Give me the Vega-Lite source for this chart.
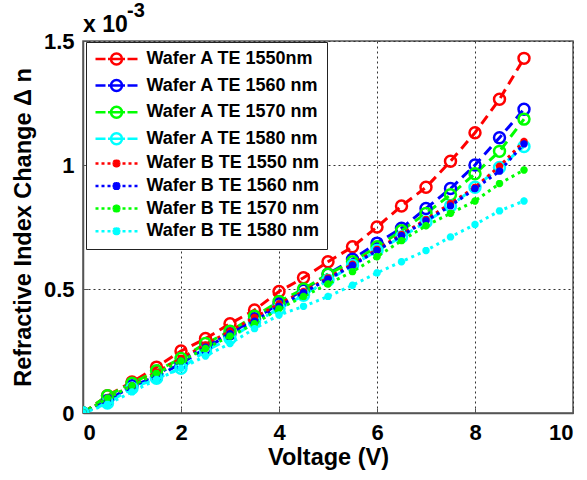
{
  "$schema": "https://vega.github.io/schema/vega-lite/v6.json",
  "width": 490,
  "height": 372,
  "autosize": "none",
  "padding": {"left": 83, "top": 41, "right": 14, "bottom": 67},
  "background": "white",
  "config": {
    "font": "Liberation Sans",
    "view": {"stroke": "#555555", "strokeWidth": 1.5},
    "axis": {
      "labelFont": "Liberation Sans",
      "labelFontWeight": "bold",
      "labelFontSize": 22,
      "labelColor": "black",
      "titleFont": "Liberation Sans",
      "titleFontWeight": "bold",
      "titleFontSize": 23.5,
      "titleColor": "black",
      "domainColor": "#555555",
      "domainWidth": 1.5,
      "tickColor": "#555555",
      "tickSize": -5,
      "labelPadding": 14,
      "grid": true,
      "gridColor": "#333333",
      "gridDash": [2, 3],
      "gridWidth": 1,
      "gridOpacity": 1
    },
    "legend": {
      "title": null,
      "orient": "none",
      "legendX": 3,
      "legendY": 1,
      "padding": 8,
      "strokeColor": "#222222",
      "fillColor": "white",
      "labelFont": "Liberation Sans",
      "labelFontWeight": "bold",
      "labelFontSize": 18,
      "labelColor": "black",
      "labelOffset": 21,
      "labelLimit": 400,
      "rowPadding": 4.6,
      "symbolSize": 100,
      "symbolOffset": 13.5,
      "symbolStrokeWidth": 2.5,
      "symbolFillColor": "transparent"
    }
  },
  "datasets": {
    "curves": [
      {"s": "Wafer A TE 1550nm", "v": 0, "dn": 0}, {"s": "Wafer A TE 1550nm", "v": 0.5, "dn": 0.07}, {"s": "Wafer A TE 1550nm", "v": 1, "dn": 0.125}, {"s": "Wafer A TE 1550nm", "v": 1.5, "dn": 0.185}, {"s": "Wafer A TE 1550nm", "v": 2, "dn": 0.25}, {"s": "Wafer A TE 1550nm", "v": 2.5, "dn": 0.3}, {"s": "Wafer A TE 1550nm", "v": 3, "dn": 0.36}, {"s": "Wafer A TE 1550nm", "v": 3.5, "dn": 0.415}, {"s": "Wafer A TE 1550nm", "v": 4, "dn": 0.49}, {"s": "Wafer A TE 1550nm", "v": 4.5, "dn": 0.545}, {"s": "Wafer A TE 1550nm", "v": 5, "dn": 0.61}, {"s": "Wafer A TE 1550nm", "v": 5.5, "dn": 0.67}, {"s": "Wafer A TE 1550nm", "v": 6, "dn": 0.75}, {"s": "Wafer A TE 1550nm", "v": 6.5, "dn": 0.835}, {"s": "Wafer A TE 1550nm", "v": 7, "dn": 0.91}, {"s": "Wafer A TE 1550nm", "v": 7.5, "dn": 1.015}, {"s": "Wafer A TE 1550nm", "v": 8, "dn": 1.13}, {"s": "Wafer A TE 1550nm", "v": 8.5, "dn": 1.265}, {"s": "Wafer A TE 1550nm", "v": 9, "dn": 1.43},
      {"s": "Wafer A TE 1560 nm", "v": 0, "dn": 0}, {"s": "Wafer A TE 1560 nm", "v": 0.5, "dn": 0.05}, {"s": "Wafer A TE 1560 nm", "v": 1, "dn": 0.11}, {"s": "Wafer A TE 1560 nm", "v": 1.5, "dn": 0.145}, {"s": "Wafer A TE 1560 nm", "v": 2, "dn": 0.2}, {"s": "Wafer A TE 1560 nm", "v": 2.5, "dn": 0.26}, {"s": "Wafer A TE 1560 nm", "v": 3, "dn": 0.32}, {"s": "Wafer A TE 1560 nm", "v": 3.5, "dn": 0.38}, {"s": "Wafer A TE 1560 nm", "v": 4, "dn": 0.44}, {"s": "Wafer A TE 1560 nm", "v": 4.5, "dn": 0.495}, {"s": "Wafer A TE 1560 nm", "v": 5, "dn": 0.56}, {"s": "Wafer A TE 1560 nm", "v": 5.5, "dn": 0.62}, {"s": "Wafer A TE 1560 nm", "v": 6, "dn": 0.685}, {"s": "Wafer A TE 1560 nm", "v": 6.5, "dn": 0.745}, {"s": "Wafer A TE 1560 nm", "v": 7, "dn": 0.825}, {"s": "Wafer A TE 1560 nm", "v": 7.5, "dn": 0.905}, {"s": "Wafer A TE 1560 nm", "v": 8, "dn": 1.0}, {"s": "Wafer A TE 1560 nm", "v": 8.5, "dn": 1.11}, {"s": "Wafer A TE 1560 nm", "v": 9, "dn": 1.225},
      {"s": "Wafer A TE 1570 nm", "v": 0, "dn": 0}, {"s": "Wafer A TE 1570 nm", "v": 0.5, "dn": 0.07}, {"s": "Wafer A TE 1570 nm", "v": 1, "dn": 0.12}, {"s": "Wafer A TE 1570 nm", "v": 1.5, "dn": 0.17}, {"s": "Wafer A TE 1570 nm", "v": 2, "dn": 0.22}, {"s": "Wafer A TE 1570 nm", "v": 2.5, "dn": 0.28}, {"s": "Wafer A TE 1570 nm", "v": 3, "dn": 0.33}, {"s": "Wafer A TE 1570 nm", "v": 3.5, "dn": 0.39}, {"s": "Wafer A TE 1570 nm", "v": 4, "dn": 0.45}, {"s": "Wafer A TE 1570 nm", "v": 4.5, "dn": 0.5}, {"s": "Wafer A TE 1570 nm", "v": 5, "dn": 0.56}, {"s": "Wafer A TE 1570 nm", "v": 5.5, "dn": 0.61}, {"s": "Wafer A TE 1570 nm", "v": 6, "dn": 0.67}, {"s": "Wafer A TE 1570 nm", "v": 6.5, "dn": 0.735}, {"s": "Wafer A TE 1570 nm", "v": 7, "dn": 0.805}, {"s": "Wafer A TE 1570 nm", "v": 7.5, "dn": 0.88}, {"s": "Wafer A TE 1570 nm", "v": 8, "dn": 0.965}, {"s": "Wafer A TE 1570 nm", "v": 8.5, "dn": 1.055}, {"s": "Wafer A TE 1570 nm", "v": 9, "dn": 1.185},
      {"s": "Wafer A TE 1580 nm", "v": 0, "dn": 0}, {"s": "Wafer A TE 1580 nm", "v": 0.5, "dn": 0.04}, {"s": "Wafer A TE 1580 nm", "v": 1, "dn": 0.1}, {"s": "Wafer A TE 1580 nm", "v": 1.5, "dn": 0.14}, {"s": "Wafer A TE 1580 nm", "v": 2, "dn": 0.18}, {"s": "Wafer A TE 1580 nm", "v": 2.5, "dn": 0.25}, {"s": "Wafer A TE 1580 nm", "v": 3, "dn": 0.3}, {"s": "Wafer A TE 1580 nm", "v": 3.5, "dn": 0.365}, {"s": "Wafer A TE 1580 nm", "v": 4, "dn": 0.42}, {"s": "Wafer A TE 1580 nm", "v": 4.5, "dn": 0.475}, {"s": "Wafer A TE 1580 nm", "v": 5, "dn": 0.535}, {"s": "Wafer A TE 1580 nm", "v": 5.5, "dn": 0.595}, {"s": "Wafer A TE 1580 nm", "v": 6, "dn": 0.655}, {"s": "Wafer A TE 1580 nm", "v": 6.5, "dn": 0.71}, {"s": "Wafer A TE 1580 nm", "v": 7, "dn": 0.77}, {"s": "Wafer A TE 1580 nm", "v": 7.5, "dn": 0.835}, {"s": "Wafer A TE 1580 nm", "v": 8, "dn": 0.91}, {"s": "Wafer A TE 1580 nm", "v": 8.5, "dn": 0.99}, {"s": "Wafer A TE 1580 nm", "v": 9, "dn": 1.075},
      {"s": "Wafer B TE 1550 nm", "v": 0, "dn": 0}, {"s": "Wafer B TE 1550 nm", "v": 0.5, "dn": 0.06}, {"s": "Wafer B TE 1550 nm", "v": 1, "dn": 0.11}, {"s": "Wafer B TE 1550 nm", "v": 1.5, "dn": 0.165}, {"s": "Wafer B TE 1550 nm", "v": 2, "dn": 0.22}, {"s": "Wafer B TE 1550 nm", "v": 2.5, "dn": 0.275}, {"s": "Wafer B TE 1550 nm", "v": 3, "dn": 0.33}, {"s": "Wafer B TE 1550 nm", "v": 3.5, "dn": 0.385}, {"s": "Wafer B TE 1550 nm", "v": 4, "dn": 0.44}, {"s": "Wafer B TE 1550 nm", "v": 4.5, "dn": 0.49}, {"s": "Wafer B TE 1550 nm", "v": 5, "dn": 0.545}, {"s": "Wafer B TE 1550 nm", "v": 5.5, "dn": 0.6}, {"s": "Wafer B TE 1550 nm", "v": 6, "dn": 0.66}, {"s": "Wafer B TE 1550 nm", "v": 6.5, "dn": 0.72}, {"s": "Wafer B TE 1550 nm", "v": 7, "dn": 0.78}, {"s": "Wafer B TE 1550 nm", "v": 7.5, "dn": 0.845}, {"s": "Wafer B TE 1550 nm", "v": 8, "dn": 0.91}, {"s": "Wafer B TE 1550 nm", "v": 8.5, "dn": 0.995}, {"s": "Wafer B TE 1550 nm", "v": 9, "dn": 1.095},
      {"s": "Wafer B TE 1560 nm", "v": 0, "dn": 0}, {"s": "Wafer B TE 1560 nm", "v": 0.5, "dn": 0.055}, {"s": "Wafer B TE 1560 nm", "v": 1, "dn": 0.105}, {"s": "Wafer B TE 1560 nm", "v": 1.5, "dn": 0.155}, {"s": "Wafer B TE 1560 nm", "v": 2, "dn": 0.21}, {"s": "Wafer B TE 1560 nm", "v": 2.5, "dn": 0.265}, {"s": "Wafer B TE 1560 nm", "v": 3, "dn": 0.32}, {"s": "Wafer B TE 1560 nm", "v": 3.5, "dn": 0.37}, {"s": "Wafer B TE 1560 nm", "v": 4, "dn": 0.43}, {"s": "Wafer B TE 1560 nm", "v": 4.5, "dn": 0.485}, {"s": "Wafer B TE 1560 nm", "v": 5, "dn": 0.54}, {"s": "Wafer B TE 1560 nm", "v": 5.5, "dn": 0.595}, {"s": "Wafer B TE 1560 nm", "v": 6, "dn": 0.655}, {"s": "Wafer B TE 1560 nm", "v": 6.5, "dn": 0.715}, {"s": "Wafer B TE 1560 nm", "v": 7, "dn": 0.775}, {"s": "Wafer B TE 1560 nm", "v": 7.5, "dn": 0.835}, {"s": "Wafer B TE 1560 nm", "v": 8, "dn": 0.905}, {"s": "Wafer B TE 1560 nm", "v": 8.5, "dn": 0.975}, {"s": "Wafer B TE 1560 nm", "v": 9, "dn": 1.085},
      {"s": "Wafer B TE 1570 nm", "v": 0, "dn": 0}, {"s": "Wafer B TE 1570 nm", "v": 0.5, "dn": 0.06}, {"s": "Wafer B TE 1570 nm", "v": 1, "dn": 0.11}, {"s": "Wafer B TE 1570 nm", "v": 1.5, "dn": 0.16}, {"s": "Wafer B TE 1570 nm", "v": 2, "dn": 0.21}, {"s": "Wafer B TE 1570 nm", "v": 2.5, "dn": 0.26}, {"s": "Wafer B TE 1570 nm", "v": 3, "dn": 0.31}, {"s": "Wafer B TE 1570 nm", "v": 3.5, "dn": 0.36}, {"s": "Wafer B TE 1570 nm", "v": 4, "dn": 0.42}, {"s": "Wafer B TE 1570 nm", "v": 4.5, "dn": 0.47}, {"s": "Wafer B TE 1570 nm", "v": 5, "dn": 0.52}, {"s": "Wafer B TE 1570 nm", "v": 5.5, "dn": 0.57}, {"s": "Wafer B TE 1570 nm", "v": 6, "dn": 0.63}, {"s": "Wafer B TE 1570 nm", "v": 6.5, "dn": 0.695}, {"s": "Wafer B TE 1570 nm", "v": 7, "dn": 0.755}, {"s": "Wafer B TE 1570 nm", "v": 7.5, "dn": 0.805}, {"s": "Wafer B TE 1570 nm", "v": 8, "dn": 0.855}, {"s": "Wafer B TE 1570 nm", "v": 8.5, "dn": 0.925}, {"s": "Wafer B TE 1570 nm", "v": 9, "dn": 0.98},
      {"s": "Wafer B TE 1580 nm", "v": 0, "dn": 0}, {"s": "Wafer B TE 1580 nm", "v": 0.5, "dn": 0.035}, {"s": "Wafer B TE 1580 nm", "v": 1, "dn": 0.085}, {"s": "Wafer B TE 1580 nm", "v": 1.5, "dn": 0.135}, {"s": "Wafer B TE 1580 nm", "v": 2, "dn": 0.18}, {"s": "Wafer B TE 1580 nm", "v": 2.5, "dn": 0.23}, {"s": "Wafer B TE 1580 nm", "v": 3, "dn": 0.28}, {"s": "Wafer B TE 1580 nm", "v": 3.5, "dn": 0.34}, {"s": "Wafer B TE 1580 nm", "v": 4, "dn": 0.395}, {"s": "Wafer B TE 1580 nm", "v": 4.5, "dn": 0.43}, {"s": "Wafer B TE 1580 nm", "v": 5, "dn": 0.47}, {"s": "Wafer B TE 1580 nm", "v": 5.5, "dn": 0.515}, {"s": "Wafer B TE 1580 nm", "v": 6, "dn": 0.565}, {"s": "Wafer B TE 1580 nm", "v": 6.5, "dn": 0.61}, {"s": "Wafer B TE 1580 nm", "v": 7, "dn": 0.655}, {"s": "Wafer B TE 1580 nm", "v": 7.5, "dn": 0.71}, {"s": "Wafer B TE 1580 nm", "v": 8, "dn": 0.76}, {"s": "Wafer B TE 1580 nm", "v": 8.5, "dn": 0.815}, {"s": "Wafer B TE 1580 nm", "v": 9, "dn": 0.855}
    ],
    "note": [{"v": 0, "dn": 1.5, "a": "x 10", "b": "-3"}]
  },
  "encoding": {
    "x": {"field": "v", "type": "quantitative", "scale": {"domain": [0, 10], "nice": false}, "axis": {"values": [0, 2, 4, 6, 8, 10], "format": "d", "title": "Voltage (V)", "titlePadding": 2}},
    "y": {"field": "dn", "type": "quantitative", "scale": {"domain": [0, 1.5], "nice": false}, "axis": {"values": [0, 0.5, 1, 1.5], "format": ".1~f", "title": "Refractive Index Change Δ n", "titlePadding": 8}}
  },
  "layer": [
    {
      "data": {"name": "curves"},
      "transform": [{"filter": "indexof(datum.s, 'Wafer A') === 0"}],
      "mark": {"type": "line", "strokeWidth": 3, "strokeCap": "butt", "strokeDash": [10, 6], "clip": true},
      "encoding": {
        "color": {
          "field": "s", "type": "nominal",
          "scale": {
            "domain": ["Wafer A TE 1550nm", "Wafer A TE 1560 nm", "Wafer A TE 1570 nm", "Wafer A TE 1580 nm", "Wafer B TE 1550 nm", "Wafer B TE 1560 nm", "Wafer B TE 1570 nm", "Wafer B TE 1580 nm"],
            "range": ["#ff0000", "#0000ff", "#00ff00", "#00ffff", "#ff0000", "#0000ff", "#00ff00", "#00ffff"]
          }
        }
      }
    },
    {
      "data": {"name": "curves"},
      "transform": [{"filter": "indexof(datum.s, 'Wafer A') === 0"}],
      "mark": {"type": "point", "shape": "circle", "filled": false, "strokeWidth": 2.5, "size": 120, "opacity": 1, "clip": true},
      "encoding": {"color": {"field": "s", "type": "nominal"}}
    },
    {
      "data": {"name": "curves"},
      "transform": [{"filter": "indexof(datum.s, 'Wafer B') === 0"}],
      "mark": {"type": "line", "strokeWidth": 3, "strokeCap": "butt", "strokeDash": [3, 4], "clip": true},
      "encoding": {"color": {"field": "s", "type": "nominal"}}
    },
    {
      "data": {"name": "curves"},
      "transform": [{"filter": "indexof(datum.s, 'Wafer B') === 0"}],
      "mark": {"type": "point", "shape": "M-0.7,0H0.7M0,-0.7V0.7M-0.5,-0.5L0.5,0.5M-0.5,0.5L0.5,-0.5", "filled": false, "strokeWidth": 2.5, "size": 110, "opacity": 1, "clip": true},
      "encoding": {"color": {"field": "s", "type": "nominal"}}
    },
    {
      "data": {"name": "curves"},
      "transform": [{"filter": "datum.v < 0"}],
      "mark": {"type": "point", "filled": false, "strokeWidth": 2.5, "opacity": 1},
      "encoding": {
        "color": {"field": "s", "type": "nominal", "legend": {"title": null}},
        "shape": {
          "field": "s", "type": "nominal",
          "scale": {
            "domain": ["Wafer A TE 1550nm", "Wafer A TE 1560 nm", "Wafer A TE 1570 nm", "Wafer A TE 1580 nm", "Wafer B TE 1550 nm", "Wafer B TE 1560 nm", "Wafer B TE 1570 nm", "Wafer B TE 1580 nm"],
            "range": [
              "M-4.2,0H-2.2M-1.7,0H1.7M2.2,0H4.2M-1.1,0A1.1,1.1,0,1,1,1.1,0A1.1,1.1,0,1,1,-1.1,0",
              "M-4.2,0H-2.2M-1.7,0H1.7M2.2,0H4.2M-1.1,0A1.1,1.1,0,1,1,1.1,0A1.1,1.1,0,1,1,-1.1,0",
              "M-4.2,0H-2.2M-1.7,0H1.7M2.2,0H4.2M-1.1,0A1.1,1.1,0,1,1,1.1,0A1.1,1.1,0,1,1,-1.1,0",
              "M-4.2,0H-2.2M-1.7,0H1.7M2.2,0H4.2M-1.1,0A1.1,1.1,0,1,1,1.1,0A1.1,1.1,0,1,1,-1.1,0",
              "M-4.2,0H-3.6M-3,0H-2.4M-1.8,0H-1.2M1.2,0H1.8M2.4,0H3M3.6,0H4.2M-0.8,0H0.8M0,-0.8V0.8M-0.6,-0.6L0.6,0.6M-0.6,0.6L0.6,-0.6",
              "M-4.2,0H-3.6M-3,0H-2.4M-1.8,0H-1.2M1.2,0H1.8M2.4,0H3M3.6,0H4.2M-0.8,0H0.8M0,-0.8V0.8M-0.6,-0.6L0.6,0.6M-0.6,0.6L0.6,-0.6",
              "M-4.2,0H-3.6M-3,0H-2.4M-1.8,0H-1.2M1.2,0H1.8M2.4,0H3M3.6,0H4.2M-0.8,0H0.8M0,-0.8V0.8M-0.6,-0.6L0.6,0.6M-0.6,0.6L0.6,-0.6",
              "M-4.2,0H-3.6M-3,0H-2.4M-1.8,0H-1.2M1.2,0H1.8M2.4,0H3M3.6,0H4.2M-0.8,0H0.8M0,-0.8V0.8M-0.6,-0.6L0.6,0.6M-0.6,0.6L0.6,-0.6"
            ]
          },
          "legend": {"title": null}
        }
      }
    },
    {
      "data": {"name": "note"},
      "mark": {"type": "text", "align": "left", "baseline": "alphabetic", "dy": -9, "fontSize": 23, "fontWeight": "bold", "font": "Liberation Sans", "color": "black"},
      "encoding": {"text": {"field": "a"}}
    },
    {
      "data": {"name": "note"},
      "mark": {"type": "text", "align": "left", "baseline": "alphabetic", "dx": 44, "dy": -24, "fontSize": 20, "fontWeight": "bold", "font": "Liberation Sans", "color": "black"},
      "encoding": {"text": {"field": "b"}}
    }
  ]
}
